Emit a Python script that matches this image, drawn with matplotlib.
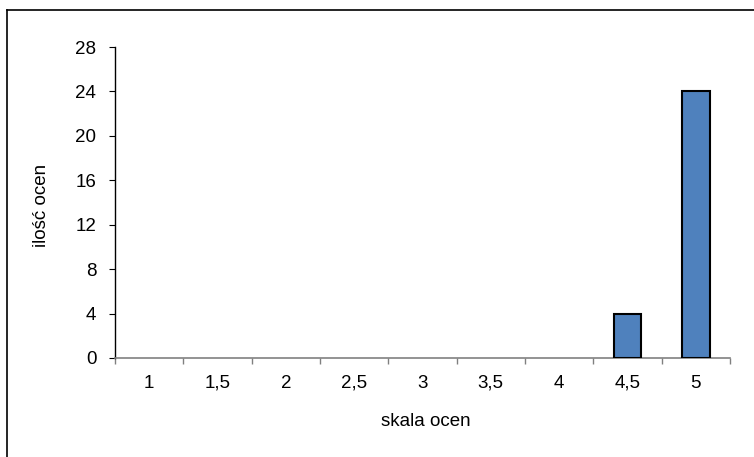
import matplotlib
matplotlib.use("Agg")
import matplotlib.pyplot as plt
from matplotlib.lines import Line2D

categories = ["1", "1,5", "2", "2,5", "3", "3,5", "4", "4,5", "5"]
values = [0, 0, 0, 0, 0, 0, 0, 4, 24]
yticks = [0, 4, 8, 12, 16, 20, 24, 28]

plt.rcParams['font.family'] = ['Liberation Sans', 'DejaVu Sans']
FS = 13.5

W, H = 754, 457
fig = plt.figure(figsize=(W/100, H/100), dpi=100)
fig.patch.set_facecolor('white')
# outer frame: only top and left edges visible
fig.add_artist(Line2D([6.5/W, 1], [1-9.5/H, 1-9.5/H], transform=fig.transFigure, color='black', linewidth=1.2))
fig.add_artist(Line2D([6.5/W, 6.5/W], [0, 1-9.5/H], transform=fig.transFigure, color='black', linewidth=1.2))

ax = fig.add_axes([115/W, 1-358/H, (730-115)/W, (358-47)/H])
x = list(range(len(categories)))
bars = ax.bar(x, values, width=0.4, color='#4f81bd', edgecolor='black', linewidth=1.5, zorder=3)
for b, v in zip(bars, values):
    if v == 0:
        b.set_linewidth(0)
ax.set_xlim(-0.5, len(categories)-0.5)
ax.set_ylim(0, 28)
ax.set_yticks(yticks)
ax.set_yticklabels([str(t) for t in yticks], fontsize=FS)
ax.set_xticks(x)
ax.set_xticklabels(categories, fontsize=FS, va='baseline')
ax.tick_params(axis='x', which='major', length=0, pad=21.5)
ax.set_xticks([i-0.5 for i in range(len(categories)+1)], minor=True)
ax.tick_params(axis='x', which='minor', length=4, direction='out', color='#808080', width=1)
ax.tick_params(axis='y', length=4.5, direction='out', color='black', pad=9)
for s in ['top', 'right']:
    ax.spines[s].set_visible(False)
ax.spines['left'].set_color('black')
ax.spines['bottom'].set_color('#808080')
ax.spines['left'].set_linewidth(1)
ax.spines['bottom'].set_linewidth(1.2)
ax.set_ylabel('ilość ocen', fontsize=FS)
ax.yaxis.set_label_coords((41-115)/615, (358-205)/311)
ax.yaxis.label.set_va('center')
ax.set_xlabel('skala ocen', fontsize=FS)
ax.xaxis.set_label_coords((426-115)/615, (358-421)/311)
ax.xaxis.label.set_va('center')

fig.savefig('out.png', dpi=100)
